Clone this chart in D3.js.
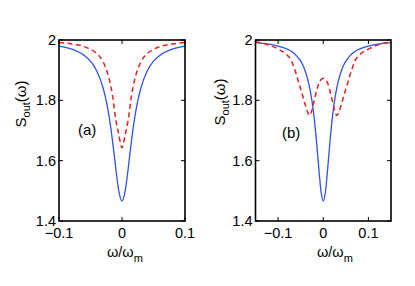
<!DOCTYPE html>
<html lang="en">
<head>
    <meta charset="UTF-8">
    <title>S_out spectra</title>
    <script src="https://cdn.jsdelivr.net/npm/d3@7"></script>
    <style>
        body { margin: 0; background: #fff; }
        text { font-family: "Liberation Sans", Arial, sans-serif; fill: #000; }
    </style>
</head>
<body>
<script>
    // panel (a)
    let xA = [-0.1, -0.08, -0.06, -0.05, -0.04, -0.03, -0.025, -0.02, -0.015, -0.01, -0.005, 0,
              0.005, 0.01, 0.015, 0.02, 0.025, 0.03, 0.04, 0.05, 0.06, 0.08, 0.1];
    let blueA = [1.980, 1.970, 1.949, 1.930, 1.897, 1.841, 1.798, 1.740, 1.665, 1.577, 1.499, 1.466,
                 1.499, 1.577, 1.665, 1.740, 1.798, 1.841, 1.897, 1.930, 1.949, 1.970, 1.980];
    let redA = [1.992, 1.987, 1.978, 1.969, 1.955, 1.928, 1.903, 1.868, 1.815, 1.738, 1.685, 1.643,
                1.685, 1.738, 1.815, 1.868, 1.903, 1.928, 1.955, 1.969, 1.978, 1.987, 1.992];

    // panel (b)
    let xB = [-0.15, -0.12, -0.1, -0.08, -0.07, -0.065, -0.06, -0.055, -0.05, -0.045, -0.04, -0.035,
              -0.03, -0.025, -0.02, -0.015, -0.01, -0.005, 0,
              0.005, 0.01, 0.015, 0.02, 0.025, 0.03, 0.035, 0.04, 0.045, 0.05, 0.055, 0.06,
              0.065, 0.07, 0.08, 0.1, 0.12, 0.15];
    let blueB = [1.991, 1.986, 1.980, 1.970, 1.962, 1.956, 1.949, 1.940, 1.930, 1.916, 1.897, 1.873,
                 1.841, 1.798, 1.740, 1.665, 1.577, 1.499, 1.466,
                 1.499, 1.577, 1.665, 1.740, 1.798, 1.841, 1.873, 1.897, 1.916, 1.930, 1.940, 1.949,
                 1.956, 1.962, 1.970, 1.980, 1.986, 1.991];
    let redB = [1.994, 1.983, 1.970, 1.950, 1.930, 1.910, 1.888, 1.862, 1.838, 1.812, 1.786, 1.762,
                1.750, 1.768, 1.800, 1.830, 1.856, 1.868, 1.873,
                1.868, 1.856, 1.830, 1.800, 1.768, 1.750, 1.762, 1.786, 1.812, 1.838, 1.862, 1.888,
                1.910, 1.930, 1.950, 1.970, 1.983, 1.994];

    let yTicks = [1.4, 1.6, 1.8, 2];
    let xTicksA = [-0.1, 0, 0.1];
    let xTicksB = [-0.1, 0, 0.1];

    let svg = d3.select('body')
                .append('svg')
                .attr('width', 415)
                .attr('height', 286);

    function fmt(d) {
        return d < 0 ? '\u2212' + String(-d).replace(/^0(?=\.)/, '0') : String(d);
    }

    function panel(opt) {
        let x = d3.scaleLinear().domain(opt.xDomain).range([opt.left, opt.right]);
        let y = d3.scaleLinear().domain([1.4, 2]).range([opt.bottom, opt.top]);
        let g = svg.append('g');

        let line = d3.line()
                     .x(function(d) { return x(d[0]); })
                     .y(function(d) { return y(d[1]); })
                     .curve(d3.curveMonotoneX);

        g.append('path')
         .attr('d', line(d3.zip(opt.xs, opt.blue)))
         .attr('fill', 'none')
         .attr('stroke', '#2f52f2')
         .attr('stroke-width', 1.3);

        g.append('path')
         .attr('d', line(d3.zip(opt.xs, opt.red)))
         .attr('fill', 'none')
         .attr('stroke', '#ee1d1d')
         .attr('stroke-width', 1.5)
         .attr('stroke-dasharray', '5,3.5');

        // inward ticks on all four sides
        let t = 4;
        g.selectAll('.tx').data(opt.xTicks).enter().append('path')
         .attr('d', function(d) { return 'M' + x(d) + ',' + opt.bottom + 'v' + (-t) + 'M' + x(d) + ',' + opt.top + 'v' + t; })
         .attr('stroke', '#000').attr('stroke-width', 1);
        g.selectAll('.ty').data(yTicks).enter().append('path')
         .attr('d', function(d) { return 'M' + opt.left + ',' + y(d) + 'h' + t + 'M' + opt.right + ',' + y(d) + 'h' + (-t); })
         .attr('stroke', '#000').attr('stroke-width', 1);

        g.append('rect')
         .attr('x', opt.left).attr('y', opt.top)
         .attr('width', opt.right - opt.left).attr('height', opt.bottom - opt.top)
         .attr('fill', 'none').attr('stroke', '#000').attr('stroke-width', 1.6);

        g.selectAll('.lx').data(opt.xTicks).enter().append('text')
         .attr('x', function(d) { return x(d); })
         .attr('y', opt.bottom + 17)
         .attr('text-anchor', 'middle')
         .style('font-size', '14.5px')
         .text(fmt);

        g.selectAll('.ly').data(yTicks).enter().append('text')
         .attr('x', opt.left - 3)
         .attr('y', function(d) { return y(d) + 5; })
         .attr('text-anchor', 'end')
         .style('font-size', '14.5px')
         .text(function(d) { return String(d); });

        // x label  ω/ω_m
        let xl = g.append('text')
                  .attr('x', opt.xlabX)
                  .attr('y', 257)
                  .style('font-size', '14.5px');
        xl.append('tspan').text('\u03c9/\u03c9');
        xl.append('tspan').attr('dy', 5).style('font-size', '11px').text('m');

        // y label  S_out(ω)
        let yl = g.append('text')
                  .attr('transform', 'translate(' + opt.ylabX + ',' + opt.ylabY + ') rotate(-90)')
                  .attr('text-anchor', 'middle')
                  .style('font-size', '15px');
        yl.append('tspan').text('S');
        yl.append('tspan').attr('dy', 4).style('font-size', '11px').text('out');
        yl.append('tspan').attr('dy', -4).text('(\u03c9)');

        g.append('text')
         .attr('x', opt.tagX).attr('y', opt.tagY)
         .style('font-size', '15px')
         .text(opt.tag);
    }

    panel({ xDomain: [-0.1, 0.1], left: 59, right: 185, top: 40, bottom: 221,
            xs: xA, blue: blueA, red: redA, xTicks: xTicksA,
            xlabX: 107, ylabX: 26, ylabY: 104, tag: '(a)', tagX: 78, tagY: 135 });

    panel({ xDomain: [-0.15, 0.15], left: 255.5, right: 391, top: 40, bottom: 221,
            xs: xB, blue: blueB, red: redB, xTicks: xTicksB,
            xlabX: 317, ylabX: 225, ylabY: 102, tag: '(b)', tagX: 282, tagY: 138 });
</script>
</body>
</html>
